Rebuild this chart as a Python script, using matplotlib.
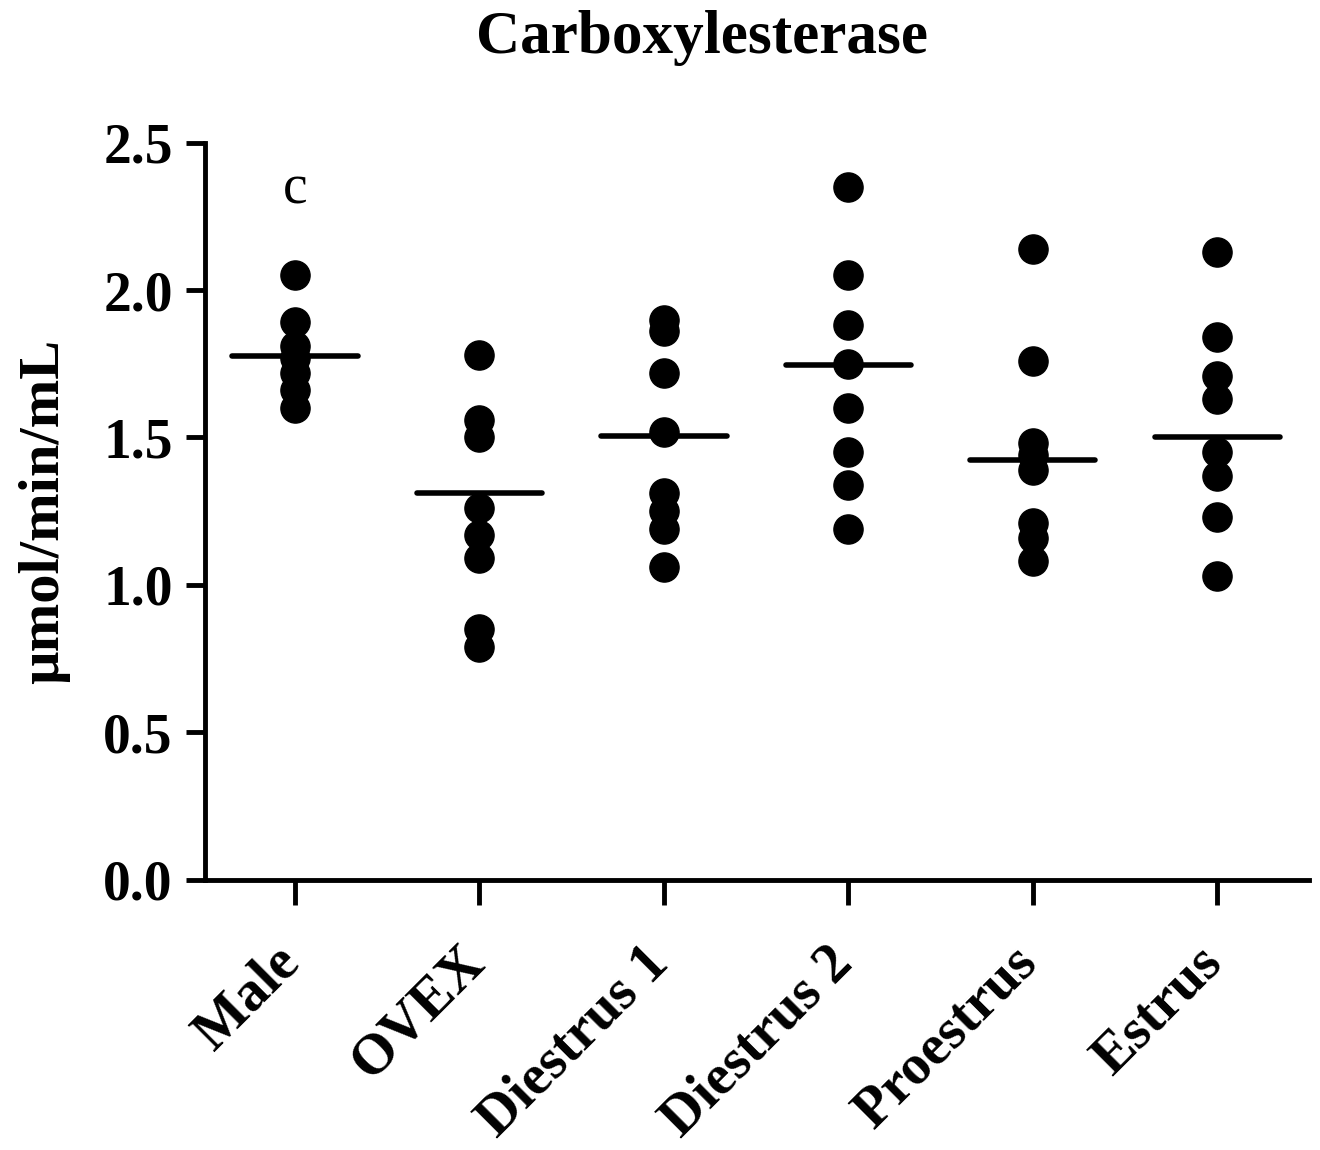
import numpy as np
import matplotlib
matplotlib.use("Agg")
import matplotlib.pyplot as plt
import matplotlib.transforms as mtransforms

# group labels and individual values (umol/min/mL)
groups = ["Male", "OVEX", "Diestrus 1", "Diestrus 2", "Proestrus", "Estrus"]
male = [2.05, 1.89, 1.81, 1.77, 1.72, 1.66, 1.60]
ovex = [1.78, 1.56, 1.50, 1.26, 1.17, 1.09, 0.85, 0.79]
diestrus1 = [1.90, 1.86, 1.72, 1.52, 1.31, 1.25, 1.19, 1.06]
diestrus2 = [2.35, 2.05, 1.88, 1.75, 1.60, 1.45, 1.34, 1.19]
proestrus = [2.14, 1.76, 1.48, 1.44, 1.39, 1.21, 1.16, 1.08]
estrus = [2.13, 1.84, 1.71, 1.63, 1.45, 1.37, 1.23, 1.03]
group_means = [1.775, 1.31, 1.505, 1.745, 1.425, 1.50]

all_values = [male, ovex, diestrus1, diestrus2, proestrus, estrus]

plt.rcParams["font.family"] = ["Liberation Serif", "DejaVu Serif"]
plt.rcParams["font.weight"] = "bold"

fig = plt.figure(figsize=(13.2, 11.5), dpi=100)
ax = fig.add_axes([0.155, 0.235, 0.837, 0.641])

for i, vals in enumerate(all_values):
    ax.plot([i] * len(vals), vals, "o", color="black", markersize=21, zorder=3)
    ax.plot([i - 0.34, i + 0.34], [group_means[i]] * 2, color="black",
            linewidth=4, solid_capstyle="round", zorder=4)

ax.text(0, 2.34, "c", ha="center", va="center", fontsize=40, fontweight="normal")

ax.set_xlim(-0.49, 5.5)
ax.set_ylim(0, 2.5)
ax.set_yticks([0.0, 0.5, 1.0, 1.5, 2.0, 2.5])
ax.set_yticklabels(["0.0", "0.5", "1.0", "1.5", "2.0", "2.5"])
ax.set_xticks(range(len(groups)))
ax.set_xticklabels(groups, rotation=45, ha="right", rotation_mode="anchor")

for side in ["top", "right"]:
    ax.spines[side].set_visible(False)
for side in ["left", "bottom"]:
    ax.spines[side].set_linewidth(3.5)

ax.tick_params(axis="y", labelsize=40, width=3.5, length=14, pad=9)
ax.tick_params(axis="x", labelsize=41, width=3.5, length=18, pad=12)
shift = mtransforms.ScaledTranslation(-0.22, -0.15, fig.dpi_scale_trans)
for lbl in ax.get_xticklabels():
    lbl.set_transform(lbl.get_transform() + shift)
for lbl in ax.get_xticklabels() + ax.get_yticklabels():
    lbl.set_fontweight("bold")

ax.set_ylabel("\u00b5mol/min/mL", fontsize=42, fontweight="bold", va="center")
ax.yaxis.set_label_coords(-0.145, 0.5)
fig.text(0.532, 0.967, "Carboxylesterase", ha="center", va="center",
         fontsize=44, fontweight="bold")

fig.savefig("out.png", dpi=100)
